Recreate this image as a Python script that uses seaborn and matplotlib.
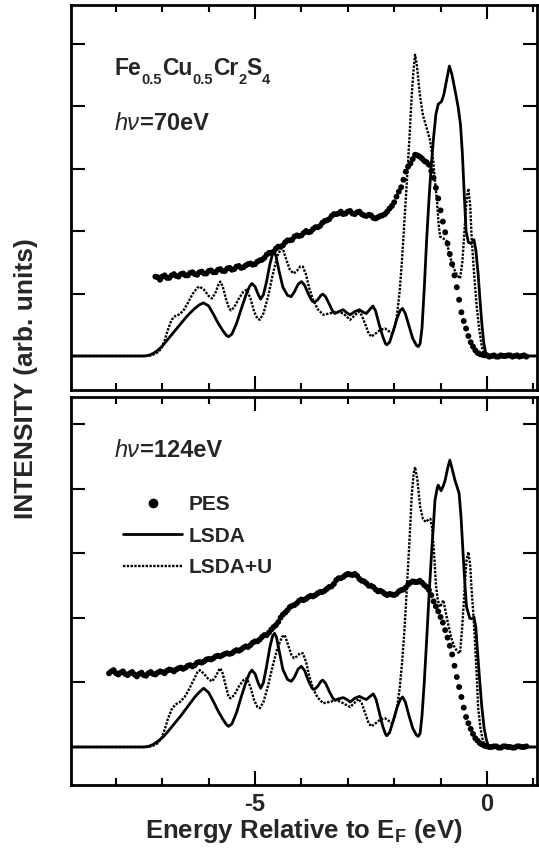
import numpy as np
import pandas as pd
import matplotlib
matplotlib.use("Agg")
import matplotlib.pyplot as plt
import seaborn as sns
from matplotlib.lines import Line2D

# ---------------- data ----------------
# top panel, hv = 70 eV  (PES points, two interleaved reading passes)
top_pes_x = [-7.15, -7.05, -6.95, -6.85, -6.75, -6.65, -6.55, -6.45, -6.35, -6.25,
             -6.15, -6.05, -5.95, -5.85, -5.75, -5.65, -5.55, -5.45, -5.35, -5.25,
             -5.15, -5.05, -4.95, -4.85, -4.75, -4.65, -4.55, -4.45, -4.35, -4.25,
             -4.15, -4.05, -3.95, -3.85, -3.75, -3.65, -3.55, -3.45, -3.35, -3.25,
             -3.15, -3.05, -2.95, -2.85, -2.75, -2.65, -2.55, -2.45, -2.35, -2.25,
             -2.15, -2.05, -1.95, -1.85, -1.75, -1.65, -1.55, -1.45, -1.35, -1.25,
             -1.15, -1.05, -0.95, -0.85, -0.75, -0.65, -0.55, -0.45, -0.35, -0.25,
             -0.15, -0.05, 0.05, 0.15, 0.25, 0.35, 0.45, 0.55, 0.65, 0.75, 0.85]
top_pes_y = [1.27, 1.22, 1.29, 1.25, 1.31, 1.27, 1.32, 1.29, 1.34, 1.30,
             1.35, 1.32, 1.37, 1.34, 1.39, 1.36, 1.41, 1.39, 1.44, 1.42,
             1.47, 1.46, 1.51, 1.54, 1.62, 1.65, 1.72, 1.75, 1.82, 1.85,
             1.91, 1.92, 1.97, 1.98, 2.03, 2.06, 2.13, 2.17, 2.24, 2.27,
             2.31, 2.28, 2.32, 2.27, 2.31, 2.25, 2.26, 2.21, 2.22, 2.25,
             2.31, 2.40, 2.55, 2.70, 2.95, 3.08, 3.22, 3.19, 3.12, 3.06,
             2.85, 2.52, 2.15, 1.80, 1.47, 1.10, 0.70, 0.44, 0.22, 0.09,
             0.03, 0.01, -0.01, 0.01, -0.01, 0.00, 0.01, -0.01, 0.01, 0.00, -0.01]
top_pes_x2 = [-7.10, -7.00, -6.90, -6.80, -6.70, -6.60, -6.50, -6.40, -6.30, -6.20,
              -6.10, -6.00, -5.90, -5.80, -5.70, -5.60, -5.50, -5.40, -5.30, -5.20,
              -5.10, -5.00, -4.90, -4.80, -4.70, -4.60, -4.50, -4.40, -4.30, -4.20,
              -4.10, -4.00, -3.90, -3.80, -3.70, -3.60, -3.50, -3.40, -3.30, -3.20,
              -3.10, -3.00, -2.90, -2.80, -2.70, -2.60, -2.50, -2.40, -2.30, -2.20,
              -2.10, -2.00, -1.90, -1.80, -1.70, -1.60, -1.50, -1.40, -1.30, -1.20,
              -1.10, -1.00, -0.90, -0.80, -0.70, -0.60, -0.50, -0.40, -0.30, -0.20,
              -0.10, 0.00, 0.10, 0.20, 0.30, 0.40, 0.50, 0.60, 0.70, 0.80]
top_pes_y2 = [1.26, 1.27, 1.25, 1.29, 1.28, 1.31, 1.29, 1.33, 1.31, 1.34,
              1.32, 1.36, 1.34, 1.38, 1.36, 1.40, 1.38, 1.43, 1.41, 1.45,
              1.48, 1.47, 1.53, 1.57, 1.65, 1.67, 1.75, 1.77, 1.85, 1.86,
              1.93, 1.93, 2.00, 1.99, 2.06, 2.08, 2.16, 2.19, 2.27, 2.28,
              2.27, 2.31, 2.28, 2.30, 2.27, 2.24, 2.25, 2.20, 2.24, 2.27,
              2.36, 2.46, 2.63, 2.82, 3.03, 3.15, 3.21, 3.16, 3.10, 2.96,
              2.69, 2.33, 1.98, 1.63, 1.29, 0.90, 0.56, 0.32, 0.15, 0.05,
              0.02, 0.01, 0.00, -0.01, 0.01, 0.00, 0.01, 0.00, -0.01, 0.01]

top_lsda_x = [-9.0, -7.4, -7.3, -7.2, -7.1, -7.0, -6.9, -6.8, -6.7, -6.6, -6.5, -6.4, -6.3, -6.2,
              -6.11, -6.0, -5.9, -5.8, -5.7, -5.62, -5.57, -5.5, -5.4, -5.3, -5.2, -5.12, -5.07,
              -5.0, -4.93, -4.88, -4.82, -4.75, -4.68, -4.62, -4.59, -4.55, -4.48, -4.4, -4.3,
              -4.22, -4.15, -4.07, -4.0, -3.93, -3.85, -3.77, -3.72, -3.65, -3.58, -3.54, -3.48,
              -3.4, -3.33, -3.28, -3.2, -3.1, -3.02, -2.95, -2.85, -2.75, -2.67, -2.6, -2.52,
              -2.46, -2.4, -2.33, -2.25, -2.19, -2.16, -2.1, -2.02, -1.94, -1.87, -1.82, -1.76,
              -1.68, -1.6, -1.52, -1.48, -1.44, -1.4, -1.35, -1.3, -1.25, -1.2, -1.15, -1.1,
              -1.05, -0.98, -0.93, -0.86, -0.81, -0.76, -0.69, -0.62, -0.57, -0.53, -0.49,
              -0.45, -0.4, -0.34, -0.28, -0.24, -0.19, -0.15, -0.11, -0.07, -0.03, 0.02, 1.2]
top_lsda_y = [0.0, 0.0, 0.01, 0.04, 0.09, 0.16, 0.25, 0.34, 0.43, 0.52, 0.61, 0.69, 0.76, 0.82,
              0.85, 0.80, 0.67, 0.53, 0.41, 0.33, 0.31, 0.35, 0.52, 0.75, 0.97, 1.11, 1.16,
              1.11, 0.98, 0.91, 0.98, 1.20, 1.47, 1.64, 1.67, 1.60, 1.35, 1.10, 0.97,
              0.95, 1.03, 1.15, 1.19, 1.13, 0.99, 0.88, 0.86, 0.90, 0.97, 0.99, 0.95,
              0.83, 0.72, 0.68, 0.71, 0.74, 0.69, 0.66, 0.71, 0.74, 0.70, 0.68, 0.75,
              0.80, 0.72, 0.52, 0.32, 0.20, 0.18, 0.22, 0.40, 0.60, 0.73, 0.76, 0.68,
              0.48, 0.28, 0.17, 0.15, 0.20, 0.45, 1.10, 1.86, 2.50, 3.05, 3.50, 3.87,
              4.03, 4.07, 4.18, 4.45, 4.64, 4.52, 4.26, 3.98, 3.70, 3.25, 2.60,
              2.00, 1.82, 1.80, 1.86, 1.70, 1.32, 0.90, 0.52, 0.22, 0.06, 0.0, 0.0]

top_lsdau_x = [-9.0, -7.3, -7.2, -7.1, -7.02, -6.95, -6.88, -6.8, -6.72, -6.65, -6.55, -6.45,
               -6.35, -6.25, -6.2, -6.1, -6.0, -5.93, -5.85, -5.78, -5.75, -5.7, -5.63, -5.56,
               -5.52, -5.45, -5.35, -5.25, -5.18, -5.1, -5.02, -4.95, -4.9, -4.82, -4.72, -4.62,
               -4.52, -4.44, -4.4, -4.33, -4.25, -4.17, -4.1, -4.03, -3.97, -3.9, -3.83, -3.75,
               -3.65, -3.53, -3.4, -3.24, -3.1, -2.95, -2.85, -2.77, -2.7, -2.62, -2.55, -2.49,
               -2.4, -2.3, -2.2, -2.12, -2.05, -1.99, -1.94, -1.88, -1.83, -1.78, -1.73, -1.67,
               -1.62, -1.58, -1.55, -1.51, -1.45, -1.38, -1.3, -1.23, -1.16, -1.12, -1.08, -1.04,
               -1.01, -0.94, -0.87, -0.8, -0.73, -0.65, -0.58, -0.53, -0.48, -0.44, -0.4, -0.36,
               -0.33, -0.28, -0.22, -0.17, -0.11, -0.06, 0.0, 1.2]
top_lsdau_y = [0.0, 0.0, 0.02, 0.06, 0.12, 0.25, 0.42, 0.58, 0.64, 0.66, 0.72, 0.85,
               0.99, 1.09, 1.11, 1.06, 0.96, 0.92, 1.02, 1.16, 1.19, 1.12, 0.92, 0.76,
               0.73, 0.78, 0.92, 1.03, 1.06, 0.92, 0.71, 0.60, 0.58, 0.68, 0.95, 1.30,
               1.60, 1.72, 1.71, 1.55, 1.38, 1.32, 1.36, 1.43, 1.43, 1.30, 1.08, 0.90,
               0.75, 0.66, 0.68, 0.71, 0.68, 0.58, 0.65, 0.71, 0.65, 0.50, 0.36, 0.31,
               0.36, 0.42, 0.44, 0.40, 0.36, 0.45, 0.65, 1.05, 1.55, 2.15, 2.75, 3.50,
               4.20, 4.60, 4.82, 4.65, 4.20, 3.85, 3.65, 3.46, 3.14, 2.80, 2.50, 2.10,
               1.91, 1.88, 1.84, 1.60, 1.43, 1.30, 1.24, 1.50, 2.05, 2.50, 2.68, 2.40,
               1.90, 1.35, 0.79, 0.45, 0.15, 0.03, 0.0, 0.0]

# bottom panel, hv = 124 eV
bot_pes_x = [-8.15, -8.05, -7.95, -7.85, -7.75, -7.65, -7.55, -7.45, -7.35, -7.25,
             -7.15, -7.05, -6.95, -6.85, -6.75, -6.65, -6.55, -6.45, -6.35, -6.25,
             -6.15, -6.05, -5.95, -5.85, -5.75, -5.65, -5.55, -5.45, -5.35, -5.25,
             -5.15, -5.05, -4.95, -4.85, -4.75, -4.65, -4.55, -4.45, -4.35, -4.25,
             -4.15, -4.05, -3.95, -3.85, -3.75, -3.65, -3.55, -3.45, -3.35, -3.25,
             -3.15, -3.05, -2.95, -2.85, -2.75, -2.65, -2.55, -2.45, -2.35, -2.25,
             -2.15, -2.05, -1.95, -1.85, -1.75, -1.65, -1.55, -1.45, -1.35, -1.25,
             -1.15, -1.05, -0.95, -0.85, -0.75, -0.65, -0.55, -0.45, -0.35, -0.25,
             -0.15, -0.05, 0.05, 0.15, 0.25, 0.35, 0.45, 0.55, 0.65, 0.75, 0.85]
bot_pes_y = [1.18, 1.23, 1.16, 1.21, 1.15, 1.20, 1.13, 1.19, 1.14, 1.20,
             1.16, 1.21, 1.18, 1.24, 1.21, 1.26, 1.25, 1.30, 1.29, 1.35,
             1.35, 1.40, 1.40, 1.45, 1.45, 1.49, 1.49, 1.53, 1.54, 1.59,
             1.60, 1.67, 1.69, 1.76, 1.79, 1.88, 1.95, 2.07, 2.15, 2.24,
             2.27, 2.34, 2.35, 2.40, 2.41, 2.46, 2.48, 2.53, 2.57, 2.67,
             2.70, 2.75, 2.76, 2.77, 2.69, 2.65, 2.58, 2.56, 2.49, 2.48,
             2.43, 2.44, 2.45, 2.51, 2.55, 2.63, 2.64, 2.66, 2.59, 2.51,
             2.33, 2.17, 1.99, 1.75, 1.48, 1.12, 0.80, 0.48, 0.29, 0.14,
             0.06, 0.02, 0.00, 0.01, -0.01, 0.01, 0.00, -0.01, 0.01, 0.00, 0.01]
bot_pes_x2 = [-8.10, -8.00, -7.90, -7.80, -7.70, -7.60, -7.50, -7.40, -7.30, -7.20,
              -7.10, -7.00, -6.90, -6.80, -6.70, -6.60, -6.50, -6.40, -6.30, -6.20,
              -6.10, -6.00, -5.90, -5.80, -5.70, -5.60, -5.50, -5.40, -5.30, -5.20,
              -5.10, -5.00, -4.90, -4.80, -4.70, -4.60, -4.50, -4.40, -4.30, -4.20,
              -4.10, -4.00, -3.90, -3.80, -3.70, -3.60, -3.50, -3.40, -3.30, -3.20,
              -3.10, -3.00, -2.90, -2.80, -2.70, -2.60, -2.50, -2.40, -2.30, -2.20,
              -2.10, -2.00, -1.90, -1.80, -1.70, -1.60, -1.50, -1.40, -1.30, -1.20,
              -1.10, -1.00, -0.90, -0.80, -0.70, -0.60, -0.50, -0.40, -0.30, -0.20,
              -0.10, 0.00, 0.10, 0.20, 0.30, 0.40, 0.50, 0.60, 0.70, 0.80]
bot_pes_y2 = [1.21, 1.18, 1.19, 1.17, 1.18, 1.16, 1.17, 1.15, 1.18, 1.17,
              1.19, 1.20, 1.22, 1.23, 1.24, 1.27, 1.27, 1.31, 1.31, 1.36,
              1.37, 1.41, 1.42, 1.46, 1.47, 1.50, 1.50, 1.55, 1.56, 1.61,
              1.63, 1.69, 1.72, 1.79, 1.83, 1.92, 2.00, 2.12, 2.19, 2.26,
              2.30, 2.36, 2.37, 2.42, 2.43, 2.48, 2.50, 2.56, 2.61, 2.70,
              2.72, 2.77, 2.75, 2.74, 2.66, 2.62, 2.58, 2.52, 2.50, 2.45,
              2.45, 2.43, 2.49, 2.52, 2.60, 2.65, 2.64, 2.63, 2.56, 2.43,
              2.25, 2.08, 1.87, 1.62, 1.30, 0.96, 0.63, 0.38, 0.21, 0.10,
              0.04, 0.01, 0.00, 0.01, -0.01, 0.01, 0.00, -0.01, 0.01, 0.00]

bot_lsda_x = [-9.0, -7.4, -7.3, -7.2, -7.1, -7.0, -6.9, -6.8, -6.7, -6.6, -6.5, -6.4, -6.3, -6.2,
              -6.11, -6.0, -5.9, -5.8, -5.7, -5.62, -5.57, -5.5, -5.4, -5.3, -5.2, -5.12, -5.07,
              -5.0, -4.93, -4.88, -4.82, -4.75, -4.68, -4.62, -4.58, -4.54, -4.47, -4.4, -4.3,
              -4.22, -4.15, -4.07, -4.0, -3.93, -3.85, -3.77, -3.72, -3.65, -3.58, -3.54, -3.48,
              -3.4, -3.33, -3.28, -3.2, -3.1, -3.02, -2.95, -2.85, -2.75, -2.67, -2.6, -2.52,
              -2.45, -2.39, -2.32, -2.25, -2.19, -2.16, -2.1, -2.02, -1.94, -1.87, -1.82, -1.76,
              -1.68, -1.6, -1.52, -1.48, -1.44, -1.4, -1.35, -1.3, -1.25, -1.19, -1.15, -1.12,
              -1.07, -1.05, -0.99, -0.94, -0.9, -0.85, -0.8, -0.75, -0.69, -0.6, -0.56, -0.51,
              -0.47, -0.44, -0.37, -0.32, -0.28, -0.24, -0.21, -0.16, -0.11, -0.06, -0.01, 0.03,
              0.08, 1.2]
bot_lsda_y = [0.0, 0.0, 0.01, 0.04, 0.09, 0.15, 0.23, 0.32, 0.41, 0.50, 0.60, 0.70, 0.80, 0.88,
              0.94, 0.87, 0.73, 0.58, 0.45, 0.36, 0.33, 0.37, 0.55, 0.80, 1.03, 1.18, 1.23,
              1.17, 1.02, 0.94, 1.03, 1.30, 1.60, 1.78, 1.82, 1.76, 1.50, 1.24, 1.08,
              1.05, 1.12, 1.25, 1.29, 1.22, 1.06, 0.94, 0.92, 0.97, 1.05, 1.07, 1.02,
              0.89, 0.79, 0.75, 0.77, 0.79, 0.76, 0.72, 0.78, 0.81, 0.78, 0.76, 0.81,
              0.85, 0.76, 0.55, 0.34, 0.21, 0.18, 0.23, 0.42, 0.63, 0.76, 0.80, 0.72,
              0.50, 0.30, 0.19, 0.17, 0.22, 0.50, 1.05, 1.71, 2.40, 3.15, 3.60, 3.95,
              4.15, 4.19, 4.10, 4.18, 4.27, 4.45, 4.59, 4.45, 4.27, 4.06, 3.70, 3.04,
              2.55, 2.24, 2.06, 2.05, 2.08, 1.92, 1.60, 1.10, 0.64, 0.30, 0.11, 0.02,
              0.0, 0.0]

bot_lsdau_x = [-9.0, -7.3, -7.2, -7.1, -7.02, -6.95, -6.88, -6.8, -6.72, -6.62, -6.52, -6.42,
               -6.32, -6.24, -6.19, -6.1, -6.0, -5.93, -5.85, -5.78, -5.75, -5.7, -5.63, -5.57,
               -5.53, -5.45, -5.35, -5.25, -5.18, -5.1, -5.02, -4.95, -4.9, -4.82, -4.72, -4.62,
               -4.52, -4.42, -4.36, -4.3, -4.22, -4.16, -4.1, -4.03, -3.97, -3.9, -3.83, -3.75,
               -3.65, -3.53, -3.4, -3.24, -3.1, -2.95, -2.85, -2.77, -2.7, -2.62, -2.55, -2.49,
               -2.4, -2.3, -2.2, -2.12, -2.05, -1.99, -1.94, -1.88, -1.83, -1.78, -1.73, -1.67,
               -1.62, -1.58, -1.55, -1.5, -1.44, -1.38, -1.32, -1.26, -1.22, -1.18, -1.14, -1.1,
               -1.06, -1.01, -0.97, -0.94, -0.9, -0.84, -0.77, -0.7, -0.63, -0.58, -0.53, -0.48,
               -0.44, -0.4, -0.36, -0.33, -0.29, -0.26, -0.22, -0.19, -0.14, -0.09, -0.04, 0.02,
               1.2]
bot_lsdau_y = [0.0, 0.0, 0.02, 0.06, 0.14, 0.28, 0.45, 0.60, 0.68, 0.72, 0.80, 0.93,
               1.08, 1.20, 1.23, 1.17, 1.08, 1.05, 1.13, 1.23, 1.26, 1.18, 0.97, 0.80,
               0.78, 0.83, 0.97, 1.07, 1.10, 0.96, 0.75, 0.64, 0.62, 0.72, 0.98, 1.30,
               1.58, 1.76, 1.79, 1.66, 1.48, 1.42, 1.45, 1.50, 1.50, 1.36, 1.13, 0.93,
               0.79, 0.70, 0.72, 0.75, 0.70, 0.64, 0.71, 0.77, 0.70, 0.53, 0.38, 0.33,
               0.38, 0.44, 0.46, 0.42, 0.38, 0.47, 0.62, 0.95, 1.35, 1.85, 2.50, 3.30,
               4.05, 4.38, 4.48, 4.28, 3.84, 3.65, 3.60, 3.64, 3.65, 3.50, 3.10, 2.60,
               2.35, 2.24, 2.30, 2.35, 2.20, 1.98, 1.75, 1.60, 1.52, 1.50, 1.95, 2.55,
               2.98, 3.12, 2.90, 2.51, 2.10, 1.71, 1.15, 0.64, 0.30, 0.11, 0.02, 0.0,
               0.0]

legend_labels = ["PES", "LSDA", "LSDA+U"]
x_major = [-5, 0]
x_major_labels = ["-5", "0"]
x_minor = [-8, -7, -6, -4, -3, -2, -1, 1]

# ---------------- style ----------------
sns.set_theme(style="ticks")
plt.rcParams["font.family"] = ["Liberation Sans", "DejaVu Sans"]
plt.rcParams["axes.unicode_minus"] = False
plt.rcParams["mathtext.fontset"] = "custom"
plt.rcParams["mathtext.rm"] = "Liberation Sans:bold"
plt.rcParams["mathtext.bf"] = "Liberation Sans:bold"
plt.rcParams["mathtext.it"] = "Liberation Sans:italic"

W, H = 539, 865
fig = plt.figure(figsize=(W / 100, H / 100), dpi=100)
L, R = 71, 537
ax1 = fig.add_axes([L / W, 1 - 390 / H, (R - L) / W, 385 / H])
ax2 = fig.add_axes([L / W, 1 - 785 / H, (R - L) / W, 388 / H])

DOT = (0, (1.0, 0.6))


def draw(ax, px, py, px2, py2, lx, ly, ux, uy):
    sns.scatterplot(x=px + px2, y=py + py2, ax=ax, color="black", s=18, edgecolor="none",
                    linewidth=0, marker="o", legend=False, zorder=3)
    sns.lineplot(x=lx, y=ly, ax=ax, color="black", linewidth=2.0,
                 estimator=None, sort=False, zorder=2)
    sns.lineplot(x=ux, y=uy, ax=ax, color="black", linewidth=1.7, linestyle=DOT,
                 estimator=None, sort=False, zorder=2)
    ax.set_xlim(-8.97, 1.08)
    ax.set_xticks(x_major)
    ax.set_xticks(x_minor, minor=True)
    ax.tick_params(which="both", direction="in", top=True, right=True, width=1.5,
                   color="black")
    ax.tick_params(which="major", length=10)
    ax.tick_params(which="minor", length=5)
    for s in ax.spines.values():
        s.set_linewidth(2)
        s.set_color("black")
    ax.set_xlabel("")
    ax.set_ylabel("")


draw(ax1, top_pes_x, top_pes_y, top_pes_x2, top_pes_y2, top_lsda_x, top_lsda_y,
     top_lsdau_x, top_lsdau_y)
draw(ax2, bot_pes_x, bot_pes_y, bot_pes_x2, bot_pes_y2, bot_lsda_x, bot_lsda_y,
     bot_lsdau_x, bot_lsdau_y)

ax1.set_ylim(-0.544, 5.616)
ax1.set_yticks([0, 1, 2, 3, 4, 5])
ax1.set_yticklabels([])
ax1.set_xticklabels([])

ax2.set_ylim(-0.608, 5.6)
ax2.set_yticks([0, 1.034, 2.067, 3.101, 4.134, 5.168])
ax2.set_yticklabels([])
ax2.set_xticklabels(x_major_labels, fontsize=17, fontweight="bold")
ax2.tick_params(axis="x", which="major", pad=6)

renderer = fig.canvas.get_renderer()


def chain(ax, x0, y0, pieces):
    """Place text pieces one after another on a common baseline (axes coords)."""
    x = x0
    inv = ax.transAxes.inverted()
    for txt, size, dy_px, style, weight in pieces:
        dy = dy_px / ax.get_window_extent().height
        t = ax.text(x, y0 + dy, txt, transform=ax.transAxes, fontsize=size,
                    fontstyle=style, fontweight=weight, va="baseline", ha="left")
        ext = t.get_window_extent(renderer)
        x = inv.transform((ext.x1, ext.y0))[0]


MAIN, SUB, DROP = 16.5, 10.5, -9
chain(ax1, 0.094, 0.818, [("Fe", MAIN, 0, "normal", "bold"), ("0.5", SUB, DROP, "normal", "bold"),
                         ("Cu", MAIN, 0, "normal", "bold"), ("0.5", SUB, DROP, "normal", "bold"),
                         ("Cr", MAIN, 0, "normal", "bold"), ("2", SUB, DROP, "normal", "bold"),
                         ("S", MAIN, 0, "normal", "bold"), ("4", SUB, DROP, "normal", "bold")])
chain(ax1, 0.094, 0.675, [("hν", 17, 0, "italic", "normal"), ("=70eV", 17, 0, "normal", "bold")])
chain(ax2, 0.094, 0.845, [("hν", 17, 0, "italic", "normal"), ("=124eV", 17, 0, "normal", "bold")])

handles = [Line2D([], [], marker="o", ls="none", color="black", markersize=6),
           Line2D([], [], color="black", lw=2.0),
           Line2D([], [], color="black", lw=1.7, ls=DOT)]
ax2.legend(handles, legend_labels, loc="upper left",
           bbox_to_anchor=((123 - L) / (R - L), 1 - (495 - 397) / 388),
           frameon=False, borderpad=0, borderaxespad=0, handlelength=2.85,
           handletextpad=0.3, labelspacing=0.6,
           prop={"family": ["Liberation Sans"], "weight": "bold", "size": 15})

fig.text(0.5 * (L + R) / W, 1 - 838 / H, r"Energy Relative to E$_{\mathbf{F}}$ (eV)",
         fontsize=18.5, fontweight="bold", ha="center", va="baseline")
fig.text(26 / W, 1 - 379 / H, "INTENSITY (arb. units)", rotation=90, fontsize=19,
         fontweight="bold", ha="center", va="center")

fig.savefig("out.png", dpi=100)
